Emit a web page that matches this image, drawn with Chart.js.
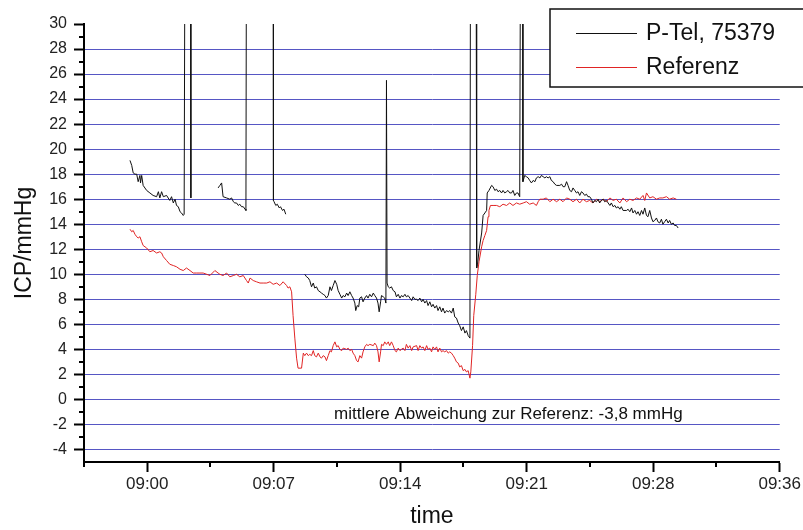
<!DOCTYPE html>
<html>
<head>
<meta charset="utf-8">
<title>ICP P-Tel / Referenz</title>
<script src="https://cdn.jsdelivr.net/npm/chart.js@4.4.0/dist/chart.umd.min.js"></script>
<style>
    html, body { margin: 0; padding: 0; background: #fff; }
    #wrap { position: relative; width: 803px; height: 530px; }
</style>
</head>
<body>
<div id="wrap"><canvas id="icpChart" width="803" height="530"></canvas></div>
<script>
/**
 * ICP recording: P-Tel probe against reference probe
 * time values are seconds relative to 09:00:00
 */

const telSeconds = [
    -59, -53, -48, -42, -36, -31, -25, -23, -19, -14, -2, 9, 20, 32, 38, 43, 49, 55, 66, 77,
    83, 89, 95, 100, 106, 112, 117, 123, 126, 129, 148, 149, 180,
    242, 248, 254, 259, 271, 282, 288, 294, 299, 305, 311, 316, 322, 328, 334, 337, 339,
    430, 431, 433, 439, 444, 451, 455, 462, 467, 473, 500,
    538, 544, 550, 555, 561, 567, 572, 578, 584, 590, 595, 601, 607, 612, 618, 624, 629, 635,
    641, 647, 652, 658, 664, 669, 675, 681, 686, 692, 698, 703, 709, 712, 717, 722, 726, 732,
    737, 743, 749, 754, 760, 766, 772, 777, 783, 788, 792, 797, 800, 806, 811, 815, 817, 819,
    823, 828, 834, 840, 846, 851, 857, 863, 868, 874, 880, 885, 891, 897, 903, 908, 914, 920,
    925, 931, 937, 942, 948, 954, 959, 965, 971, 976, 982, 988, 993, 999, 1005, 1010, 1016,
    1022, 1028, 1033, 1039, 1045, 1050, 1056, 1062, 1067, 1073, 1079, 1085, 1090, 1096, 1102,
    1104, 1123, 1125, 1128, 1133, 1142, 1147, 1153, 1159, 1161, 1167, 1176, 1181, 1187, 1193,
    1198, 1204, 1210, 1215, 1221, 1227, 1232, 1238, 1244, 1249, 1255, 1261, 1266, 1272, 1275,
    1282, 1283, 1289, 1295, 1301, 1306, 1312, 1318, 1324, 1329, 1335, 1341, 1346, 1352, 1358,
    1363, 1369, 1375, 1380, 1386, 1392, 1398, 1409, 1415, 1420, 1426, 1432, 1437, 1443, 1449,
    1454, 1460, 1466, 1471, 1477, 1483, 1488, 1494, 1500, 1505, 1511, 1517, 1522, 1528, 1534,
    1540, 1545, 1551, 1557, 1562, 1568, 1574, 1580, 1585, 1591, 1597, 1602, 1608, 1614, 1619,
    1625, 1637, 1642, 1648, 1654, 1659, 1665, 1671, 1676, 1682, 1688, 1693, 1699, 1705, 1710,
    1716, 1722, 1727, 1733, 1739, 1744, 1750, 1756, 1761, 1767, 1773, 1779, 1784, 1790, 1796,
    1801, 1807, 1813
];

// null = no signal from the probe; 40 = artefact beyond the axis
const telIcp = [
    19.1, 18.7, 18.1, 18.0, 18.0, 17.4, 17.9, 17.3, 17.9, 17.1, 16.7, 16.5, 16.3, 16.2, 16.6, 16.1, 16.6, 16.2, 16.3, 15.9,
    16.2, 15.7, 16.0, 15.5, 15.4, 15.0, 14.9, 14.7, 14.8, 40, 40, 16.1, null,
    16.9, 17.1, 17.3, 16.2, 16.1, 16.0, 16.1, 15.8, 15.7, 15.7, 15.5, 15.6, 15.4, 15.4, 15.2, 15.1, 40,
    40, 15.9, 15.8, 15.5, 15.6, 15.3, 15.4, 15.1, 15.2, 14.8, null,
    10.0, 9.8, 9.7, 9.5, 9.0, 9.3, 8.9, 9.0, 8.7, 8.6, 8.5, 8.4, 8.3, 8.1, 8.3, 9.0, 8.7, 9.1,
    9.5, 9.2, 8.7, 8.4, 8.1, 8.3, 8.2, 8.5, 8.3, 8.6, 8.3, 8.1, 7.7, 7.1, 7.5, 7.4, 8.1, 8.2,
    7.8, 8.1, 8.3, 8.1, 8.4, 8.2, 8.5, 8.3, 8.1, 7.7, 7.0, 7.8, 8.3, 8.2, 8.1, 7.7, 25.5, 9.3,
    9.0, 8.9, 9.0, 8.7, 8.6, 8.2, 8.4, 8.1, 8.3, 8.2, 8.4, 8.2, 8.3, 8.1, 7.9, 8.2, 8.0, 8.0,
    7.9, 8.1, 7.8, 8.0, 7.7, 7.9, 7.5, 7.8, 7.4, 7.6, 7.3, 7.5, 7.1, 7.4, 7.0, 7.3, 6.9,
    7.1, 7.0, 7.1, 6.9, 7.3, 6.6, 6.5, 6.1, 5.9, 5.5, 5.8, 5.3, 5.5, 5.1, 4.9,
    40, 40, 10.5, 10.8, 11.9, 13.3, 14.7, 14.9, 15.1, 16.5, 16.7, 17.1, 17.0, 16.7, 16.8,
    16.6, 16.7, 16.5, 16.7, 16.5, 16.6, 16.7, 16.5, 16.5, 16.7, 16.3, 16.5, 16.5, 16.2, 40,
    40, 17.4, 17.9, 17.8, 17.7, 17.5, 17.3, 17.5, 17.4, 17.7, 17.8, 17.7, 17.9, 17.8, 17.7,
    17.8, 17.7, 17.8, 17.5, 17.4, 17.2, 17.1, 17.1, 17.2, 17.0, 17.0, 17.4, 17.1, 16.7, 16.6,
    16.9, 16.7, 16.5, 16.6, 16.3, 16.6, 16.5, 16.3, 16.4, 16.2, 16.2, 16.0, 15.7, 15.9, 15.8,
    16.0, 15.7, 15.9, 16.0, 15.8, 15.9, 15.7, 15.5, 15.7, 15.4, 15.5, 15.3, 15.4, 15.2, 15.4,
    15.1, 15.1, 15.2, 15.0, 15.3, 14.9, 15.1, 14.8, 15.0, 14.7, 15.1, 14.8, 15.3, 14.7, 14.6,
    15.1, 14.5, 14.2, 14.3, 14.5, 14.2, 14.1, 14.4, 14.0, 14.2, 14.4, 14.1, 14.3, 14.0, 14.1,
    13.9, 13.9, 13.7
];

const refSeconds = [
    -59, -53, -48, -42, -36, -31, -25, -19, -14, -2, 9, 20, 32, 43, 49, 55, 66, 77, 89, 100,
    112, 123, 134, 146, 157, 169, 180, 191, 203, 214, 231, 242, 248, 259, 271, 282, 294, 305,
    316, 328, 339, 345, 351, 362, 373, 385, 396, 408, 419, 430, 442, 453, 464, 476, 481, 487,
    493, 498, 504, 510, 515, 527, 533, 538, 544, 550, 555, 561, 567, 572, 578, 584, 590, 595,
    601, 607, 612, 618, 624, 629, 635, 641, 647, 652, 658, 664, 669, 681, 686, 692, 698, 703,
    709, 715, 720, 726, 732, 737, 743, 749, 754, 760, 772, 777, 783, 788, 792, 797, 800, 806,
    811, 817, 823, 828, 834, 840, 846, 851, 857, 863, 868, 874, 880, 885, 891, 897, 903, 908,
    920, 925, 931, 937, 942, 948, 954, 959, 965, 971, 976, 982, 988, 993, 999, 1005, 1010,
    1016, 1022, 1028, 1033, 1039, 1045, 1050, 1056, 1062, 1067, 1073, 1079, 1085, 1090, 1096,
    1102, 1105, 1111, 1115, 1122, 1127, 1133, 1142, 1147, 1153, 1159, 1164, 1167, 1172, 1181,
    1193, 1204, 1215, 1227, 1238, 1249, 1261, 1272, 1284, 1295, 1306, 1318, 1329, 1335, 1341,
    1352, 1363, 1375, 1386, 1398, 1409, 1420, 1432, 1443, 1454, 1466, 1477, 1488, 1500, 1511,
    1522, 1534, 1545, 1557, 1568, 1580, 1591, 1602, 1614, 1625, 1637, 1648, 1659, 1671, 1682,
    1693, 1699, 1705, 1716, 1727, 1739, 1750, 1761, 1773, 1784, 1796, 1807
];

const refIcp = [
    13.6, 13.4, 13.5, 13.2, 13.0, 12.9, 13.0, 12.6, 12.3, 12.1, 11.8, 11.9, 11.7, 11.8, 11.7, 11.4, 11.1, 10.8, 10.7, 10.6,
    10.4, 10.3, 10.5, 10.3, 10.1, 10.1, 10.1, 10.1, 10.0, 9.9, 10.3, 10.1, 10.0, 9.9, 10.1, 9.8, 9.9, 10.0,
    9.8, 9.9, 9.5, 9.3, 9.7, 9.5, 9.4, 9.3, 9.3, 9.3, 9.4, 9.2, 9.3, 9.1, 9.4, 9.1, 8.9, 9.0,
    8.6, 6.7, 4.9, 3.3, 2.5, 2.5, 3.7, 3.5, 3.7, 3.5, 3.6, 3.5, 3.9, 3.5, 3.4, 3.7, 3.4, 3.3,
    3.5, 3.4, 3.1, 3.5, 3.9, 3.8, 4.3, 4.6, 4.2, 4.3, 4.0, 3.9, 4.1, 4.0, 4.1, 3.9, 4.0, 3.7,
    3.5, 3.1, 3.0, 3.5, 3.3, 3.8, 4.2, 4.4, 4.3, 4.4, 4.3, 4.5, 4.3, 3.8, 3.0, 3.8, 4.4, 4.3,
    4.6, 4.4, 4.6, 4.3, 4.6, 4.3, 3.9, 3.8, 4.1, 3.9, 4.0, 4.1, 3.9, 4.4, 4.1, 4.3, 3.9, 4.2,
    4.3, 3.9, 4.3, 4.1, 4.2, 3.9, 4.3, 4.0, 4.1, 3.8, 4.2, 4.0, 4.2, 3.8, 4.1, 3.8, 3.9,
    3.8, 3.9, 3.7, 3.8, 3.7, 3.5, 3.3, 3.0, 2.9, 2.6, 2.7, 2.3, 2.4, 2.2, 2.3,
    1.7, 2.2, 4.3, 6.7, 8.4, 9.9, 11.0, 12.2, 12.7, 13.1, 13.5, 14.6, 15.1, 15.5, 15.5,
    15.5, 15.4, 15.6, 15.5, 15.7, 15.5, 15.7, 15.6, 15.7, 15.8, 15.6, 15.7, 15.5, 15.8, 16.0,
    16.0, 16.1, 15.8, 16.0, 15.8, 16.0, 15.8, 16.1, 16.0, 15.8, 16.0, 15.7, 16.0, 15.8, 15.9,
    15.7, 16.0, 15.8, 16.0, 15.8, 16.1, 15.9, 16.0, 15.7, 16.1, 15.8, 16.0, 15.9, 16.1, 16.0,
    16.3, 15.9, 16.5, 16.1, 16.2, 16.0, 16.1, 16.1, 16.2, 16.0, 16.1, 16.0
];

const seriesNames = ['P-Tel, 75379', 'Referenz'];
const seriesColors = ['#111111', '#e02424'];

const xTickSeconds = [0, 432, 864, 1296, 1728, 2160];
const xTickLabels = ['09:00', '09:07', '09:14', '09:21', '09:28', '09:36'];
const xMinorSeconds = [-216, 216, 648, 1080, 1512, 1944];
const yTickValues = [-4, -2, 0, 2, 4, 6, 8, 10, 12, 14, 16, 18, 20, 22, 24, 26, 28, 30];
const yMinorValues = [-3, -1, 1, 3, 5, 7, 9, 11, 13, 15, 17, 19, 21, 23, 25, 27, 29];

const noteText = 'mittlere Abweichung zur Referenz: -3,8 mmHg';

const FONT = '"Liberation Sans", Arial, sans-serif';
const GRID_BLUE = '#5656c4';

function toPoints(xs, ys) {
    return xs.map((x, i) => ({ x: x, y: ys[i] }));
}

// short unlabeled ticks between the labeled ones
const minorTicks = {
    id: 'minorTicks',
    afterDraw(chart) {
        const ctx = chart.ctx;
        const xs = chart.scales.x;
        const ys = chart.scales.y;
        const area = chart.chartArea;
        ctx.save();
        ctx.strokeStyle = '#000';
        ctx.lineWidth = 2;
        ctx.beginPath();
        xMinorSeconds.forEach(v => {
            const px = Math.round(xs.getPixelForValue(v));
            ctx.moveTo(px, area.bottom);
            ctx.lineTo(px, area.bottom + 5);
        });
        yMinorValues.forEach(v => {
            const py = Math.round(ys.getPixelForValue(v));
            ctx.moveTo(area.left, py);
            ctx.lineTo(area.left - 5, py);
        });
        ctx.stroke();
        ctx.restore();
    }
};

// framed legend in the top right corner
const boxLegend = {
    id: 'boxLegend',
    afterDraw(chart) {
        const ctx = chart.ctx;
        const left = 550, top = 9, bottom = 87;
        ctx.save();
        ctx.fillStyle = '#fff';
        ctx.fillRect(left, top, chart.width - left + 5, bottom - top);
        ctx.strokeStyle = '#111';
        ctx.lineWidth = 1.5;
        ctx.strokeRect(left, top, chart.width - left + 5, bottom - top);

        chart.data.datasets.forEach((ds, i) => {
            const y = 33 + i * 34;
            ctx.strokeStyle = seriesColors[i];
            ctx.lineWidth = 1;
            ctx.beginPath();
            ctx.moveTo(576, y + 0.5);
            ctx.lineTo(637, y + 0.5);
            ctx.stroke();
            ctx.fillStyle = '#111';
            ctx.font = '23px ' + FONT;
            ctx.textBaseline = 'middle';
            ctx.fillText(ds.label, 646, y + 1);
        });
        ctx.restore();
    }
};

// mean deviation note under the curves
const deviationNote = {
    id: 'deviationNote',
    afterDraw(chart) {
        const ctx = chart.ctx;
        ctx.save();
        ctx.fillStyle = '#111';
        ctx.font = '17px ' + FONT;
        ctx.textBaseline = 'middle';
        ctx.fillText(noteText, 334, 414);
        ctx.restore();
    }
};

function renderChart() {
    const ctx = document.getElementById('icpChart');

    new Chart(ctx, {
        type: 'line',
        data: {
            datasets: [
                {
                    label: seriesNames[0],
                    data: toPoints(telSeconds, telIcp),
                    borderColor: seriesColors[0],
                    borderWidth: 1,
                    pointRadius: 0,
                    tension: 0,
                    spanGaps: false
                },
                {
                    label: seriesNames[1],
                    data: toPoints(refSeconds, refIcp),
                    borderColor: seriesColors[1],
                    borderWidth: 1,
                    pointRadius: 0,
                    tension: 0
                }
            ]
        },
        options: {
            responsive: false,
            animation: false,
            layout: { padding: { top: 24, right: 23, bottom: 0, left: 0 } },
            plugins: {
                legend: { display: false },
                tooltip: { enabled: false }
            },
            scales: {
                x: {
                    type: 'linear',
                    min: -216,
                    max: 2160,
                    afterBuildTicks(scale) {
                        scale.ticks = xTickSeconds.map(v => ({ value: v }));
                    },
                    afterFit(scale) {
                        scale.height = 68;
                    },
                    ticks: {
                        autoSkip: false,
                        maxRotation: 0,
                        padding: 2,
                        color: '#222',
                        font: { family: FONT, size: 17 },
                        callback: (value) => xTickLabels[xTickSeconds.indexOf(value)]
                    },
                    grid: {
                        drawOnChartArea: false,
                        tickLength: 10,
                        tickColor: '#000',
                        tickWidth: 2
                    },
                    border: { color: '#000', width: 2 },
                    title: {
                        display: true,
                        text: 'time',
                        color: '#111',
                        font: { family: FONT, size: 23 },
                        padding: { top: 0, bottom: 0 }
                    }
                },
                y: {
                    min: -5,
                    max: 30,
                    afterBuildTicks(scale) {
                        scale.ticks = yTickValues.map(v => ({ value: v }));
                    },
                    afterFit(scale) {
                        scale.width = 84;
                    },
                    ticks: {
                        padding: 7,
                        color: '#222',
                        font: { family: FONT, size: 16 }
                    },
                    grid: {
                        color: (c) => (c.tick && c.tick.value === 30 ? 'rgba(0,0,0,0)' : GRID_BLUE),
                        lineWidth: 1,
                        tickLength: 10,
                        tickColor: '#000',
                        tickWidth: 2
                    },
                    border: { color: '#000', width: 2 },
                    title: {
                        display: true,
                        text: 'ICP/mmHg',
                        color: '#111',
                        font: { family: FONT, size: 23 },
                        padding: { top: 11, bottom: 0 }
                    }
                }
            }
        },
        plugins: [minorTicks, deviationNote, boxLegend]
    });
}

document.addEventListener('DOMContentLoaded', renderChart);
</script>
</body>
</html>
